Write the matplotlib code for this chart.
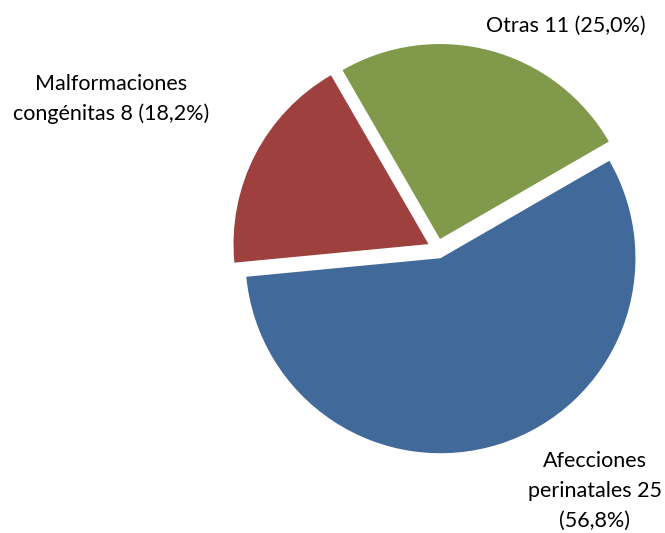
import matplotlib
matplotlib.use("Agg")
import matplotlib.pyplot as plt

# causes of death, counts per category
causes = ["Afecciones\nperinatales", "Malformaciones\ncongénitas", "Otras"]
counts = [25, 8, 11]
colors = ["#41699A", "#9E413E", "#80994A"]

total = sum(counts)
pcts = [100.0 * c / total for c in counts]


def fmt_pct(p):
    return ("%.1f" % p).replace(".", ",")


fig = plt.figure(figsize=(6.65, 5.33), dpi=100)
ax = fig.add_axes([0, 0, 1, 1])

# every slice pulled out a little from the centre
ax.pie(counts, colors=colors, radius=195, center=(437.4, 284.3),
       startangle=30, counterclock=False, explode=[10, 10, 10],
       wedgeprops={"linewidth": 0}, frame=True)
ax.set_xlim(0, 665)
ax.set_ylim(0, 533)
ax.set_aspect("equal")
ax.axis("off")

font = {"family": ["Lato", "DejaVu Sans"], "size": 15.5, "color": "black"}
labels = [
    "Afecciones\nperinatales %d\n(%s%%)" % (counts[0], fmt_pct(pcts[0])),
    "Malformaciones\ncongénitas %d (%s%%)" % (counts[1], fmt_pct(pcts[1])),
    "Otras %d (%s%%)" % (counts[2], fmt_pct(pcts[2])),
]
positions = [(595, 533 - 491), (111, 533 - 99), (566, 533 - 26)]
for txt, (x, y) in zip(labels, positions):
    ax.text(x, y, txt, ha="center", va="center", multialignment="center",
            linespacing=1.6, **font)

fig.savefig("out.png", dpi=100)
